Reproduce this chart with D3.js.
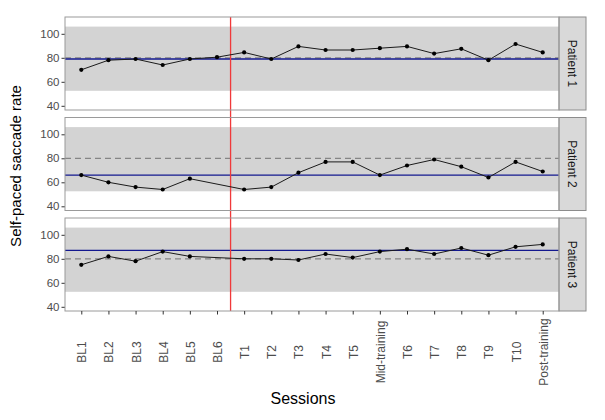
<!DOCTYPE html>
<html>
<head>
<meta charset="utf-8">
<script src="https://cdn.jsdelivr.net/npm/d3@7"></script>
<style>
  body { margin: 0; background: #fff; }
  svg { display: block; font-family: "Liberation Sans", Arial, sans-serif; }
</style>
</head>
<body>
<svg id="chart" width="605" height="420"></svg>
<script>
// ---- data ----
const sessions = ["BL1","BL2","BL3","BL4","BL5","BL6","T1","T2","T3","T4","T5",
                  "Mid-training","T6","T7","T8","T9","T10","Post-training"];
const patients = ["Patient 1","Patient 2","Patient 3"];
const patient1 = [70, 78, 79, 74, 79, 80.5, 84.5, 79, 89.5, 86.5, 86.5, 88, 89.5, 83.5, 87.5, 78, 91.5, 84.5];
const patient2 = [66, 60, 56, 54, 63, null, 54, 56, 68, 77, 77, 66, 74, 79, 73, 64, 77, 69];
const patient3 = [75, 82, 78, 86, 82, null, 80, 80, 79, 84, 81, 86, 88, 84, 89, 83, 90, 92];
const seriesValues = [patient1, patient2, patient3];
const baselineLevel = [79, 66, 87];     // solid blue lines
const referenceLevel = [80, 80, 80];    // dashed grey lines
const bandRange = [52.5, 106];          // grey shaded band
const yTicks = [40, 60, 80, 100];
const yDomain = [36.5, 114];
const phaseBreak = 5.5;                 // between BL6 and T1 (index)

// ---- layout ----
const svg = d3.select("#chart");
const left = 65, right = 559, stripW = 27;
const panelTops = [17, 117.5, 218], panelH = 93;

const x = d3.scalePoint().domain(sessions).range([left, right]).padding(0.6);
const step = x.step();
const xIdx = i => x(sessions[0]) + i * step;
const panels = [];

patients.forEach((name, p) => {
  const top = panelTops[p], bottom = top + panelH;
  const y = d3.scaleLinear().domain(yDomain).range([bottom, top]);
  const g = svg.append("g");

  g.append("rect").attr("x", left).attr("y", top).attr("width", right - left).attr("height", panelH)
    .attr("fill", "#fff");
  g.append("rect").attr("x", left).attr("width", right - left)
    .attr("y", y(bandRange[1])).attr("height", y(bandRange[0]) - y(bandRange[1]))
    .attr("fill", "#d3d3d3");
  g.append("line").attr("x1", left).attr("x2", right)
    .attr("y1", y(referenceLevel[p])).attr("y2", y(referenceLevel[p]))
    .attr("stroke", "#858585").attr("stroke-width", 1.3).attr("stroke-dasharray", "6,4");
  g.append("line").attr("x1", left).attr("x2", right)
    .attr("y1", y(baselineLevel[p])).attr("y2", y(baselineLevel[p]))
    .attr("stroke", "#13188f").attr("stroke-width", 1.4);

  const ax = g.append("g").attr("transform", `translate(${left},0)`)
    .call(d3.axisLeft(y).tickValues(yTicks).tickSize(3.5).tickPadding(2));
  ax.select(".domain").remove();
  ax.selectAll("line").attr("stroke", "#333");
  ax.selectAll("text").attr("fill", "#4d4d4d").style("font-size", "11.5px")
    .style("font-family", "Liberation Sans, Arial, sans-serif");

  g.append("rect").attr("x", right).attr("y", top).attr("width", stripW).attr("height", panelH)
    .attr("fill", "#d9d9d9").attr("stroke", "#8c8c8c").attr("stroke-width", 1);
  g.append("text").attr("transform", `translate(${right + stripW / 2},${top + panelH / 2}) rotate(90)`)
    .attr("text-anchor", "middle").attr("dy", "0.35em")
    .style("font-size", "12px").attr("fill", "#1a1a1a").text(name);

  panels.push({y, top});
});

// red phase line across all panels
svg.append("line")
  .attr("x1", xIdx(phaseBreak)).attr("x2", xIdx(phaseBreak))
  .attr("y1", panelTops[0]).attr("y2", panelTops[2] + panelH)
  .attr("stroke", "#f0393a").attr("stroke-width", 1.3);

seriesValues.forEach((vals, p) => {
  const {y, top} = panels[p];
  const pts = vals.map((v, i) => ({s: sessions[i], v})).filter(d => d.v !== null);
  const line = d3.line().x(d => x(d.s)).y(d => y(d.v));
  svg.append("path").datum(pts).attr("d", line)
    .attr("fill", "none").attr("stroke", "#1a1a1a").attr("stroke-width", 1);
  svg.selectAll(null).data(pts).enter().append("circle")
    .attr("cx", d => x(d.s)).attr("cy", d => y(d.v)).attr("r", 2.1).attr("fill", "#000");
  svg.append("rect").attr("x", left).attr("y", top).attr("width", right - left).attr("height", panelH)
    .attr("fill", "none").attr("stroke", "#9a9a9a").attr("stroke-width", 1);
});

// x axis
const xb = panelTops[2] + panelH;
const xa = svg.append("g").attr("transform", `translate(0,${xb})`)
  .call(d3.axisBottom(x).tickSize(3.5).tickPadding(2));
xa.select(".domain").remove();
xa.selectAll("line").attr("stroke", "#333");
xa.selectAll("text")
  .attr("fill", "#4d4d4d").style("font-size", "12px")
  .style("font-family", "Liberation Sans, Arial, sans-serif")
  .attr("text-anchor", "middle").attr("dy", null).attr("y", null)
  .attr("transform", "translate(4.5,41) rotate(-90)");

// titles
svg.append("text").attr("x", 303).attr("y", 404).attr("text-anchor", "middle")
  .style("font-size", "16px").attr("fill", "#000").text("Sessions");
svg.append("text").attr("transform", "translate(21,166) rotate(-90)").attr("text-anchor", "middle")
  .style("font-size", "15px").attr("fill", "#000").text("Self-paced saccade rate");
</script>
</body>
</html>
